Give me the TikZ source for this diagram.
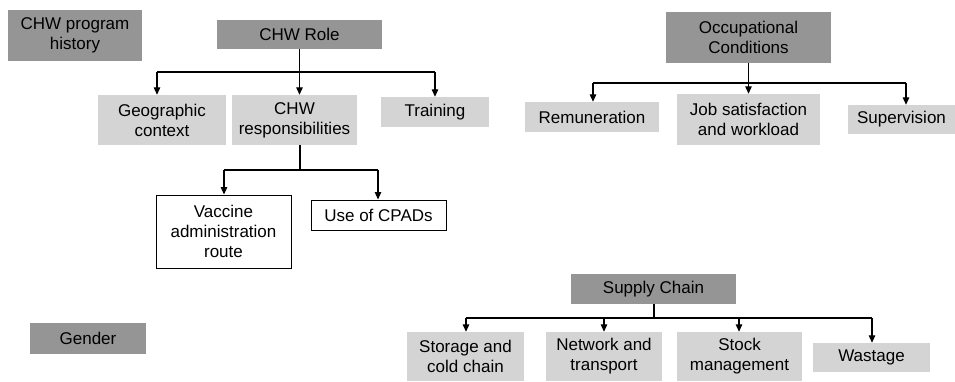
\documentclass[tikz,border=0pt]{standalone}
\usepackage{fontspec}
\setmainfont{Liberation Sans}
\usetikzlibrary{arrows.meta}
\definecolor{darkbox}{HTML}{959595}
\definecolor{lightbox}{HTML}{D4D4D4}
\tikzset{
  base/.style={inner sep=0pt, align=center, font=\fontsize{17}{20}\selectfont, text=black},
  darkb/.style={base, fill=darkbox},
  lightb/.style={base, fill=lightbox},
  whiteb/.style={base, fill=white, draw=black, line width=1pt},
  conn/.style={line width=1.2pt, draw=black},
  arr/.style={conn, -{Triangle[width=6.5pt,length=7.5pt]}}
}
\begin{document}
\begin{tikzpicture}[x=1pt,y=-1pt]
\useasboundingbox (0,0) rectangle (955,381);

% left cluster
\node[darkb, minimum width=134pt, minimum height=51pt] (hist) at (75,35.5) {CHW program\\history};
\node[darkb, minimum width=165pt, minimum height=29pt] (role) at (299.5,34.5) {CHW Role};
\node[lightb, minimum width=128pt, minimum height=50pt] (geo) at (162,120) {Geographic\\context};
\node[lightb, minimum width=125pt, minimum height=50pt] (resp) at (294.5,120) {CHW\\responsibilities};
\node[lightb, minimum width=108pt, minimum height=30pt] (train) at (435,112) {Training};
\node[whiteb, minimum width=135pt, minimum height=73pt] (vac) at (223.5,231.5) {Vaccine\\administration\\route};
\node[whiteb, minimum width=135pt, minimum height=30pt] (cpad) at (378.5,215) {Use of CPADs};
\node[darkb, minimum width=116pt, minimum height=31pt] (gender) at (88,338.5) {Gender};

% occupational
\node[darkb, minimum width=165pt, minimum height=51pt] (occ) at (748.5,37.5) {Occupational\\Conditions};
\node[lightb, minimum width=134pt, minimum height=30pt] (rem) at (592,117) {Remuneration};
\node[lightb, minimum width=143pt, minimum height=51pt] (job) at (748.5,119.5) {Job satisfaction\\and workload};
\node[lightb, minimum width=107pt, minimum height=29pt] (sup) at (901.5,119.5) {Supervision};

% supply chain
\node[darkb, minimum width=165pt, minimum height=30pt] (sc) at (653.5,289) {Supply Chain};
\node[lightb, minimum width=117pt, minimum height=49pt] (stor) at (465.5,356.5) {Storage and\\cold chain};
\node[lightb, minimum width=116pt, minimum height=49pt] (net) at (604,356.5) {Network and\\transport};
\node[lightb, minimum width=125pt, minimum height=49pt] (stock) at (739.5,356.5) {Stock\\management};
\node[lightb, minimum width=117pt, minimum height=29pt] (waste) at (871.5,357.5) {Wastage};

% role connectors
\coordinate (rbL) at (157,72);
\coordinate (rbR) at (435,72);
\draw[conn] (rbL) -- (rbR);
\draw[arr] (role.south) -- (role.south |- resp.north);
\draw[arr] (rbL) -- (rbL |- geo.north);
\draw[arr] (rbR) -- (rbR |- train.north);

% responsibilities connectors
\coordinate (rsM) at (300,170);
\coordinate (rsL) at (224,170);
\coordinate (rsR) at (378,170);
\draw[conn] (resp.south -| rsM) -- (rsM);
\draw[conn] (rsL) -- (rsR);
\draw[arr] (rsL) -- (rsL |- vac.north);
\draw[arr] (rsR) -- (rsR |- cpad.north);

% occupational connectors
\coordinate (obL) at (593,83);
\coordinate (obR) at (906,83);
\draw[conn] (obL) -- (obR);
\draw[arr] (occ.south) -- (occ.south |- job.north);
\draw[arr] (obL) -- (obL |- rem.north);
\draw[arr] (obR) -- (obR |- sup.north);

% supply chain connectors
\coordinate (sbM) at (654,318);
\coordinate (sbL) at (466,318);
\coordinate (sbR) at (872,318);
\coordinate (sb2) at (604,318);
\coordinate (sb3) at (739,318);
\draw[conn] (sc.south -| sbM) -- (sbM);
\draw[conn] (sbL) -- (sbR);
\draw[arr] (sbL) -- (sbL |- stor.north);
\draw[arr] (sb2) -- (sb2 |- net.north);
\draw[arr] (sb3) -- (sb3 |- stock.north);
\draw[arr] (sbR) -- (sbR |- waste.north);
\end{tikzpicture}
\end{document}
